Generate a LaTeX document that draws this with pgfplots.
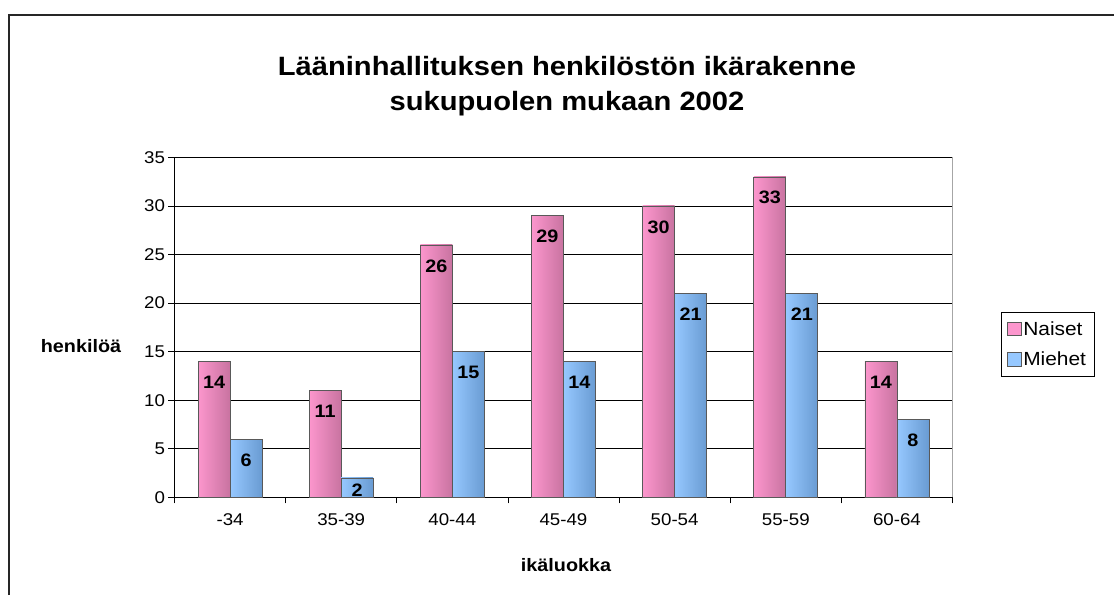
\documentclass[border=0pt]{standalone}
\usepackage{fontspec}
\setmainfont{Liberation Sans}[FakeStretch=1.1]
\usepackage{pgfplots}
\pgfplotsset{compat=1.18}
\definecolor{pinkL}{RGB}{252,150,205}
\definecolor{pinkM}{RGB}{247,165,212}
\definecolor{pinkR}{RGB}{200,115,160}
\definecolor{blueL}{RGB}{150,200,255}
\definecolor{blueM}{RGB}{162,207,252}
\definecolor{blueR}{RGB}{105,155,210}
\pgfplotsset{
  naiset/.style={left color=pinkL, middle color=pinkM, right color=pinkR, draw=black!65, line width=0.6pt, bar shift=-16pt, forget plot},
  miehet/.style={left color=blueL, middle color=blueM, right color=blueR, draw=black!65, line width=0.6pt, bar shift=16pt, forget plot},
}
% one plot per bar, so that each bar gets its own shading
\newcommand\nbar[2]{\addplot[naiset] coordinates {(#1,#2)};}
\newcommand\mbar[2]{\addplot[miehet] coordinates {(#1,#2)};}

\begin{document}
\begin{tikzpicture}[x=1pt,y=1pt]
\path[use as bounding box] (0,0) rectangle (1114,-595);
\draw[black!85, line width=1.3pt] (9,-595) -- (9,-15) -- (1114,-15);
\node[font=\bfseries\fontsize{26.5}{35}\selectfont, align=center] at (567,-86) {Lääninhallituksen henkilöstön ikärakenne\\sukupuolen mukaan 2002};
\node[font=\bfseries\fontsize{18}{20}\selectfont] at (81,-346) {henkilöä};
\node[font=\bfseries\fontsize{18}{20}\selectfont] at (566,-565) {ikäluokka};
\begin{axis}[
  at={(157,-512)}, anchor=origin,
  scale only axis, width=778pt, height=340pt,
  ybar, bar width=32pt,
  xmin=0, xmax=7, ymin=0, ymax=35,
  ytick={0,5,...,35},
  xtick={0.5,1.5,...,6.5},
  xticklabels={-34,35-39,40-44,45-49,50-54,55-59,60-64},
  minor xtick={0,1,...,7},
  major x tick style={draw=none},
  minor tick length=6pt, major tick length=6pt,
  tick align=outside,
  axis x line*=bottom, axis y line*=left,
  axis line style={black, line width=0.8pt},
  ymajorgrids, grid style={black, line width=0.8pt},
  tick style={black, line width=0.8pt},
  ticklabel style={font=\fontsize{17}{19}\selectfont},
  xticklabel style={yshift=-7pt},
  /pgf/number format/assume math mode=true,
  nodes near coords,
  every node near coord/.append style={font=\bfseries\fontsize{18}{20}\selectfont, anchor=center, yshift=-21pt},
  legend style={at={(1.0617,0.544)}, anchor=north west, draw=black, font=\fontsize{19}{22}\selectfont,
    inner xsep=6pt, inner ysep=7pt, row sep=11pt,
    nodes={inner xsep=2pt}},
  legend image code/.code={\draw[#1] (0pt,-6.5pt) rectangle (14pt,7pt);},
  legend cell align=left,
  clip=false,
]
\nbar{0.5}{14} \mbar{0.5}{6}
\nbar{1.5}{11}
\addplot[miehet, every node near coord/.append style={yshift=9pt}] coordinates {(1.5,2)};
\nbar{2.5}{26} \mbar{2.5}{15}
\nbar{3.5}{29} \mbar{3.5}{14}
\nbar{4.5}{30} \mbar{4.5}{21}
\nbar{5.5}{33} \mbar{5.5}{21}
\nbar{6.5}{14} \mbar{6.5}{8}
\addlegendimage{fill=pinkL, draw=black!65, line width=0.6pt}
\addlegendentry{Naiset}
\addlegendimage{fill=blueL, draw=black!65, line width=0.6pt}
\addlegendentry{Miehet}
\draw[black!35, line width=1pt] (rel axis cs:1,0) -- (rel axis cs:1,1);
\end{axis}
\end{tikzpicture}
\end{document}
